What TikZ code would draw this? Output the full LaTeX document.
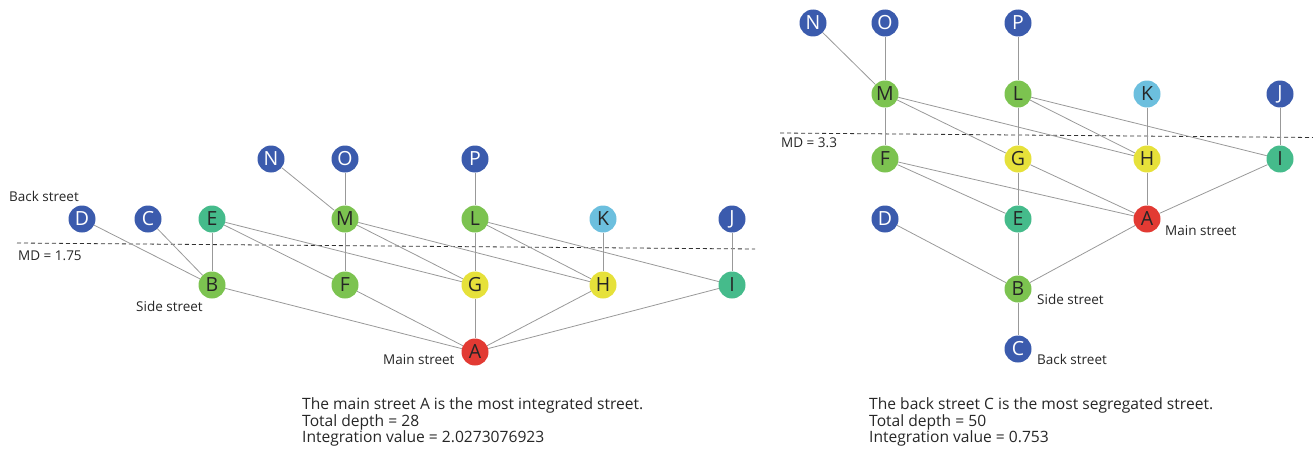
\documentclass[tikz,border=0pt]{standalone}
\usepackage{fontspec}
\setmainfont{Open Sans}
\begin{document}
\begin{tikzpicture}[x=1pt,y=-1pt,
  st/.style={circle,inner sep=0pt,minimum size=27pt,font=\fontsize{19.5}{19.5}\selectfont},
  nblue/.style={st,fill=cblue,text=white},
  ngreen/.style={st,fill=cgreen,text=black!85},
  nteal/.style={st,fill=cteal,text=black!85},
  nyellow/.style={st,fill=cyellow,text=black!85},
  nlight/.style={st,fill=clight,text=black!85},
  nred/.style={st,fill=cred,text=black!85},
  edge/.style={draw=black!40,line width=0.8pt},
  md/.style={draw=black!80,line width=0.8pt,dash pattern=on 4pt off 3pt},
  lab/.style={anchor=west,inner sep=0pt,font=\fontsize{13.5}{15}\selectfont,text=black!85},
  captext/.style={anchor=north west,inner sep=0pt,align=left,font=\fontsize{15.6}{16.6}\selectfont,text=black!85}
]
\definecolor{cblue}{HTML}{3B5BAD}
\definecolor{cgreen}{HTML}{7CC350}
\definecolor{cteal}{HTML}{45BB8B}
\definecolor{cyellow}{HTML}{E6E13A}
\definecolor{clight}{HTML}{6CBFDE}
\definecolor{cred}{HTML}{E23A33}
\useasboundingbox (0,0) rectangle (1313,452);
% ---------- left graph ----------
\draw[md] (17,243) coordinate (lmd1) -- (755,249) coordinate (lmd2);
\node[nblue] (lN) at (271,159) {N};
\node[nblue] (lO) at (345,159) {O};
\node[nblue] (lP) at (475,159) {P};
\node[nblue] (lD) at (82,219) {D};
\node[nblue] (lC) at (148,219) {C};
\node[nteal] (lE) at (212,219) {E};
\node[ngreen] (lM) at (345,219) {M};
\node[ngreen] (lL) at (475,219) {L};
\node[nlight] (lK) at (603,219) {K};
\node[nblue] (lJ) at (732,219) {J};
\node[ngreen] (lB) at (212,285) {B};
\node[ngreen] (lF) at (345,285) {F};
\node[nyellow] (lG) at (475,285) {G};
\node[nyellow] (lH) at (603,285) {H};
\node[nteal] (lI) at (732,285) {I};
\node[nred] (lA) at (475,352) {A};
\foreach \a/\b in {N/M,O/M,P/L,D/B,C/B,E/B,E/F,E/G,M/F,M/G,M/H,L/G,L/H,L/I,K/H,J/I,B/A,F/A,G/A,H/A,I/A}
  \draw[edge] (l\a) -- (l\b);
\node[lab] (lback) at (9,196) {Back street};
\node[lab] (lmdt) at (18,256) {MD = 1.75};
\node[lab] (lside) at (136,306) {Side street};
\node[lab] (lmain) at (383,360) {Main street};
\node[captext] (lcap) at (302,397.5) {The main street A is the most integrated street.\\Total depth = 28\\Integration value = 2.0273076923};
% ---------- right graph ----------
\draw[md] (780,133) coordinate (rmd1) -- (1313,137.5) coordinate (rmd2);
\node[nblue] (rN) at (813,23) {N};
\node[nblue] (rO) at (885,23) {O};
\node[nblue] (rP) at (1018,23) {P};
\node[ngreen] (rM) at (885,94) {M};
\node[ngreen] (rL) at (1018,94) {L};
\node[nlight] (rK) at (1147,94) {K};
\node[nblue] (rJ) at (1280,94) {J};
\node[ngreen] (rF) at (885,159) {F};
\node[nyellow] (rG) at (1018,159) {G};
\node[nyellow] (rH) at (1147,159) {H};
\node[nteal] (rI) at (1280,159) {I};
\node[nblue] (rD) at (885,219) {D};
\node[nteal] (rE) at (1018,219) {E};
\node[nred] (rA) at (1147,219) {A};
\node[ngreen] (rB) at (1018,289) {B};
\node[nblue] (rC) at (1018,349) {C};
\foreach \a/\b in {N/M,O/M,P/L,M/F,M/G,M/H,L/G,L/H,L/I,K/H,J/I,F/E,F/A,G/E,G/A,H/A,I/A,D/B,E/B,A/B,B/C}
  \draw[edge] (r\a) -- (r\b);
\node[lab] (rmdt) at (781,143) {MD = 3.3};
\node[lab] (rmain) at (1165,231) {Main street};
\node[lab] (rside) at (1037,299) {Side street};
\node[lab] (rback) at (1037,359) {Back street};
\node[captext] (rcap) at (869,397.5) {The back street C is the most segregated street.\\Total depth = 50\\Integration value = 0.753};
\end{tikzpicture}
\end{document}
